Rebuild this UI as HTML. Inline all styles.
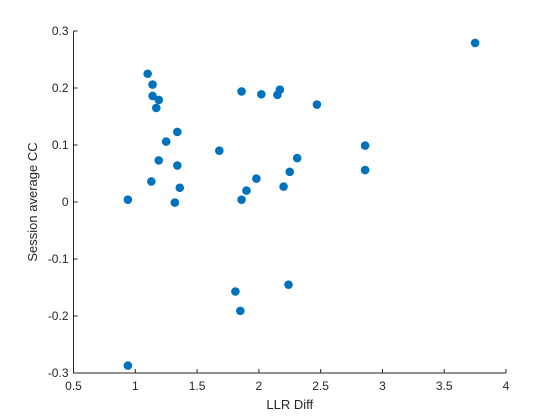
<!DOCTYPE html>
<html><head><meta charset="utf-8"><style>
body{margin:0;background:#fff;}
svg{display:block;font-family:"Liberation Sans",Arial,sans-serif;}
</style></head><body>
<svg id="chart" width="560" height="420">
<rect width="560" height="420" fill="#fff"/>
<g id="axes"></g><g id="pts"></g>
</svg>
<script>
const xVals=[0.94,1.10,1.14,1.14,1.19,1.17,1.13,1.19,1.25,1.34,1.34,1.36,1.32,1.68,1.86,1.86,1.90,1.98,2.02,2.15,2.17,2.20,2.25,2.31,2.47,2.86,2.86,3.75,1.81,2.24,1.85,0.94];
const yVals=[0.004,0.225,0.206,0.186,0.179,0.165,0.036,0.073,0.106,0.123,0.064,0.025,-0.001,0.090,0.194,0.004,0.020,0.041,0.189,0.188,0.197,0.027,0.053,0.077,0.171,0.099,0.056,0.279,-0.157,-0.145,-0.191,-0.287];
const xTicks=[0.5,1,1.5,2,2.5,3,3.5,4];
const xTickLabels=["0.5","1","1.5","2","2.5","3","3.5","4"];
const yTicks=[-0.3,-0.2,-0.1,0,0.1,0.2,0.3];
const yTickLabels=["-0.3","-0.2","-0.1","0","0.1","0.2","0.3"];
const L=73.5,R=506,T=31,B=373;
const sx=v=>L+(v-0.5)/3.5*(R-L);
const sy=v=>B-(v+0.3)/0.6*(B-T);
const NS="http://www.w3.org/2000/svg";
const ax=document.getElementById('axes'),pg=document.getElementById('pts');
function mk(t,a,p){const e=document.createElementNS(NS,t);for(const k in a)e.setAttribute(k,a[k]);p.appendChild(e);return e;}
let e=mk('path',{d:`M${L} ${T}V${B}H${R}`,fill:'none',stroke:'#262626','stroke-width':1},ax);


xTicks.forEach((v,i)=>{const x=sx(v);
 let t=mk('line',{x1:x,x2:x,y1:B,y2:B-4,stroke:'#262626'},ax);
 
 
 let l=mk('text',{x:x,y:B+17,'text-anchor':'middle','font-size':12,fill:'#262626'},ax);l.textContent=xTickLabels[i];
 
 });
yTicks.forEach((v,i)=>{const y=sy(v);
 let t=mk('line',{x1:L,x2:L+4,y1:y,y2:y,stroke:'#262626'},ax);
 
 
 let l=mk('text',{x:L-5,y:y+4,'text-anchor':'end','font-size':12,fill:'#262626'},ax);l.textContent=yTickLabels[i];
 
 });
let xt=mk('text',{x:(L+R)/2,y:B+36,'text-anchor':'middle','font-size':13,fill:'#262626'},ax);xt.textContent='LLR Diff';


let yt=mk('text',{x:0,y:0,transform:`translate(37,${(T+B)/2}) rotate(-90)`,'text-anchor':'middle','font-size':13,fill:'#262626'},ax);yt.textContent='Session average CC';


xVals.forEach((v,i)=>{let c=mk('circle',{cx:sx(v),cy:sy(yVals[i]),r:4.3,fill:'#0072BD'},pg);
 
 });
</script>
</body></html>
